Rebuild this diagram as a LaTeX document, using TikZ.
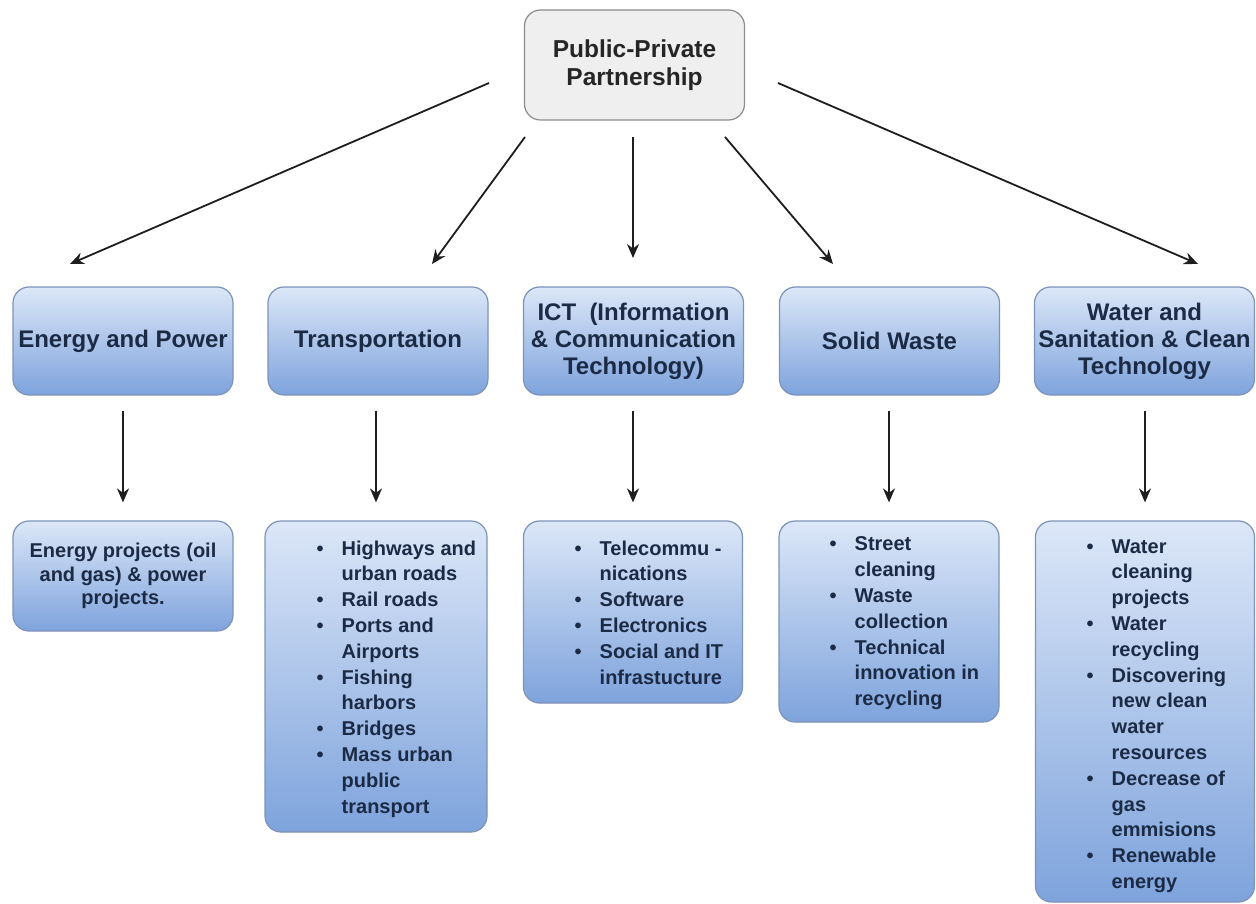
\documentclass[tikz,border=0pt]{standalone}
\usepackage{fontspec}
\setmainfont{Liberation Sans}
\usetikzlibrary{arrows.meta}
\definecolor{txt}{HTML}{1C2B45}
\definecolor{toptxt}{HTML}{262626}
\definecolor{topfill}{HTML}{EFEFEF}
\definecolor{topdraw}{HTML}{8C8C8C}
\definecolor{bluetop}{HTML}{DCE7F8}
\definecolor{bluebot}{HTML}{7EA3DC}
\definecolor{bluedraw}{HTML}{7D93B8}
\definecolor{arrowc}{HTML}{1E1E1E}
\newcommand{\bul}{\makebox[25pt][l]{\textbullet}}
\newcommand{\cnt}{\makebox[25pt]{}}
\tikzset{
  topbox/.style={draw=topdraw, fill=topfill, line width=1.2pt, rounded corners=16pt,
    minimum width=220pt, minimum height=110pt, align=center, text=toptxt,
    font=\bfseries\fontsize{24.5}{28.5}\selectfont},
  bluebox/.style={draw=bluedraw, line width=1.2pt, rounded corners=16pt,
    top color=bluetop, bottom color=bluebot, inner sep=0pt},
  catbox/.style={bluebox, minimum width=220pt, minimum height=108pt, align=center, text=txt,
    font=\bfseries\fontsize{24}{27}\selectfont},
  detbox/.style={bluebox, align=center, text=txt,
    font=\bfseries\fontsize{20}{23.5}\selectfont},
  listtext/.style={anchor=west, inner sep=0pt, align=left, text=txt,
    font=\bfseries\fontsize{20}{25.8}\selectfont},
  conn/.style={draw=arrowc, line width=1.8pt, -{Stealth[length=14pt,width=12pt]}}
}
\begin{document}
\begin{tikzpicture}[x=1pt,y=-1pt]
\useasboundingbox[fill=white] (0,0) rectangle (1256,904);

\node[topbox] (ppp) at (634.5,65) {Public-Private\\Partnership};

\node[catbox] (c1) at (123,341) {Energy and Power};
\node[catbox] (c2) at (378,341) {Transportation};
\node[catbox] (c3) at (633.5,341) {ICT\ \ (Information\\\& Communication\\Technology)};
\node[catbox] (c4) at (889.5,341) {Solid Waste};
\node[catbox] (c5) at (1144.5,341) {Water and\\Sanitation \& Clean\\Technology};

\node[detbox, minimum width=220pt, minimum height=110pt] (d1) at (123,576)
  {Energy projects (oil\\and gas) \& power\\projects.};
\node[detbox, minimum width=222pt, minimum height=311pt] (d2) at (376,676.5) {};
\node[detbox, minimum width=219pt, minimum height=182pt] (d3) at (633,612) {};
\node[detbox, minimum width=220pt, minimum height=201pt] (d4) at (889,621.5) {};
\node[detbox, minimum width=219pt, minimum height=381pt] (d5) at (1145,711.5) {};

\node[listtext] (l2) at (316.5,679) {\bul Highways and\\\cnt urban roads\\\bul Rail roads\\\bul Ports and\\\cnt Airports\\\bul Fishing\\\cnt harbors\\\bul Bridges\\\bul Mass urban\\\cnt public\\\cnt transport};
\node[listtext] (l3) at (574.5,612.5) {\bul Telecommu -\\\cnt nications\\\bul Software\\\bul Electronics\\\bul Social and IT\\\cnt infrastucture};
\node[listtext] (l4) at (829.5,623.5) {\bul Street\\\cnt cleaning\\\bul Waste\\\cnt collection\\\bul Technical\\\cnt innovation in\\\cnt recycling};
\node[listtext] (l5) at (1086.5,716) {\bul Water\\\cnt cleaning\\\cnt projects\\\bul Water\\\cnt recycling\\\bul Discovering\\\cnt new clean\\\cnt water\\\cnt resources\\\bul Decrease of\\\cnt gas\\\cnt emmisions\\\bul Renewable\\\cnt energy};

% top arrows
\coordinate (s1) at (489,83);  \coordinate (e1) at (70,264);
\coordinate (s2) at (525,137); \coordinate (e2) at (432,264);
\coordinate (s3) at (633,137); \coordinate (e3) at (633,258);
\coordinate (s4) at (725,137); \coordinate (e4) at (833,264);
\coordinate (s5) at (778,83);  \coordinate (e5) at (1198,264);
\draw[conn] (s1) -- (e1);
\draw[conn] (s2) -- (e2);
\draw[conn] (s3) -- (e3);
\draw[conn] (s4) -- (e4);
\draw[conn] (s5) -- (e5);

% vertical arrows
\draw[conn, shorten <=15pt, shorten >=18pt] (d1.north |- c1.south) -- (d1.north);
\draw[conn, shorten <=15pt, shorten >=18pt] (d2.north |- c2.south) -- (d2.north);
\draw[conn, shorten <=15pt, shorten >=18pt] (d3.north |- c3.south) -- (d3.north);
\draw[conn, shorten <=15pt, shorten >=18pt] (d4.north |- c4.south) -- (d4.north);
\draw[conn, shorten <=15pt, shorten >=18pt] (d5.north |- c5.south) -- (d5.north);
\end{tikzpicture}
\end{document}
